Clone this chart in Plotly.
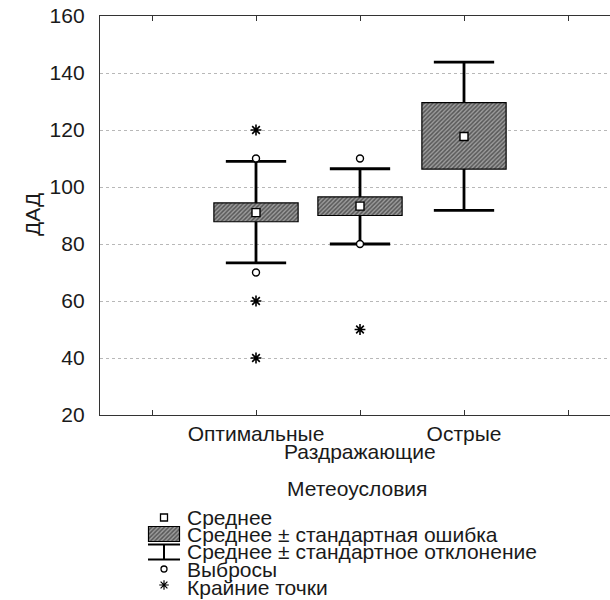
import plotly.graph_objects as go

# ---- data ----
categories = ["Оптимальные", "Раздражающие", "Острые"]
means = [91.0, 93.3, 117.7]
se_low = [87.8, 90.0, 106.3]
se_high = [94.4, 96.5, 129.6]
sd_low = [73.4, 80.0, 91.8]
sd_high = [109.0, 106.4, 143.8]
outlier_group = [0, 0, 1, 1]
outlier_vals = [110, 70, 110, 80]
extreme_group = [0, 0, 0, 1]
extreme_vals = [120, 60, 40, 50]
y_ticks = [20, 40, 60, 80, 100, 120, 140, 160]
legend_labels = ["Среднее", "Среднее ± стандартная ошибка",
                 "Среднее ± стандартное отклонение", "Выбросы", "Крайние точки"]
x_title = "Метеоусловия"
y_title = "ДАД"

FONT = "Liberation Sans, Arial, sans-serif"
FS = 21
TXT = "#1a1a1a"
W, H = 610, 600
pos = [i + 1 for i in range(len(categories))]
BOXW = 0.81
CAP = 0.29
HATCH = dict(color="#8a8a8a", line=dict(color="black", width=1.2),
             pattern=dict(shape="/", fgcolor="#111111", bgcolor="#9c9c9c",
                          size=3, solidity=0.5))

fig = go.Figure()

# boxes (mean ± SE)
fig.add_trace(go.Bar(
    x=pos, base=se_low, y=[h - l for h, l in zip(se_high, se_low)],
    width=BOXW, marker=HATCH, showlegend=False, hoverinfo="skip"))

# whiskers (mean ± SD)
wx, wy = [], []
for p, sl, sh, dl, dh in zip(pos, se_low, se_high, sd_low, sd_high):
    wx += [p, p, None, p, p, None, p - CAP, p + CAP, None, p - CAP, p + CAP, None]
    wy += [sh, dh, None, sl, dl, None, dh, dh, None, dl, dl, None]
fig.add_trace(go.Scatter(x=wx, y=wy, mode="lines",
                         line=dict(color="black", width=2.8),
                         showlegend=False, hoverinfo="skip"))

# means
fig.add_trace(go.Scatter(x=pos, y=means, mode="markers",
                         marker=dict(symbol="square", size=8, color="white",
                                     line=dict(color="black", width=1.4)),
                         showlegend=False))
# outliers
fig.add_trace(go.Scatter(x=[pos[g] for g in outlier_group], y=outlier_vals,
                         mode="markers",
                         marker=dict(symbol="circle", size=7, color="white",
                                     line=dict(color="black", width=1.4)),
                         showlegend=False))
# extremes
fig.add_trace(go.Scatter(x=[pos[g] for g in extreme_group], y=extreme_vals,
                         mode="markers",
                         marker=dict(symbol="asterisk-open", size=9, color="black",
                                     line=dict(color="black", width=1.6)),
                         showlegend=False))

# ---- legend glyphs on an auxiliary pixel-like axis ----
LY = [517.5, 534, 551.5, 569, 587]
GX = 164
fig.add_trace(go.Scatter(x=[GX], y=[LY[0]], mode="markers", xaxis="x2", yaxis="y2",
                         marker=dict(symbol="square", size=7, color="white",
                                     line=dict(color="black", width=1.3)),
                         showlegend=False, hoverinfo="skip"))
fig.add_trace(go.Bar(x=[GX], base=[LY[1] + 7.5], y=[-15], width=31,
                     xaxis="x2", yaxis="y2", marker=HATCH,
                     showlegend=False, hoverinfo="skip"))
fig.add_trace(go.Scatter(
    x=[GX - 16, GX + 16, None, GX, GX, None, GX - 16, GX + 16],
    y=[LY[2] - 7, LY[2] - 7, None, LY[2] - 7, LY[2] + 8, None, LY[2] + 8, LY[2] + 8],
    mode="lines", xaxis="x2", yaxis="y2", line=dict(color="black", width=2),
    showlegend=False, hoverinfo="skip"))
fig.add_trace(go.Scatter(x=[GX], y=[LY[3]], mode="markers", xaxis="x2", yaxis="y2",
                         marker=dict(symbol="circle", size=6, color="white",
                                     line=dict(color="black", width=1.3)),
                         showlegend=False, hoverinfo="skip"))
fig.add_trace(go.Scatter(x=[GX], y=[LY[4] - 2], mode="markers", xaxis="x2", yaxis="y2",
                         marker=dict(symbol="asterisk-open", size=8, color="black",
                                     line=dict(color="black", width=1.2)),
                         showlegend=False, hoverinfo="skip"))

annotations = []
for lab, yy in zip(legend_labels, LY):
    annotations.append(dict(x=185, y=yy, xref="x2", yref="y2", text=lab,
                            showarrow=False, xanchor="left", yanchor="middle",
                            font=dict(family=FONT, size=FS, color=TXT)))
# staggered middle category label
annotations.append(dict(x=pos[1], y=451, xref="x", yref="y2", text=categories[1],
                        showarrow=False, xanchor="center", yanchor="middle",
                        font=dict(family=FONT, size=FS, color=TXT)))
annotations.append(dict(x=357, y=488, xref="x2", yref="y2", text=x_title,
                        showarrow=False, xanchor="center", yanchor="middle",
                        font=dict(family=FONT, size=FS, color=TXT)))
annotations.append(dict(x=32, y=215, xref="x2", yref="y2", text=y_title, textangle=-90,
                        showarrow=False, xanchor="center", yanchor="middle",
                        font=dict(family=FONT, size=FS, color=TXT)))

left = 100
top, bottom = 16, 415
x0, x1 = -0.5, -0.5 + (W - left) / 104.0

fig.update_layout(
    width=W, height=H, margin=dict(l=0, r=0, t=0, b=0, autoexpand=False),
    paper_bgcolor="white", plot_bgcolor="rgba(0,0,0,0)",
    font=dict(family=FONT, size=FS, color=TXT),
    barmode="overlay",
    xaxis=dict(domain=[left / W, 1], range=[x0, x1],
               tickvals=[0, 1, 2, 3, 4],
               ticktext=["", categories[0], "", categories[2], ""],
               ticks="inside", ticklen=5, tickcolor="#333", tickwidth=1,
               showline=True, linecolor="#333", linewidth=1.3, mirror="ticks",
               showgrid=False, zeroline=False, fixedrange=True, automargin=False,
               tickfont=dict(family=FONT, size=FS, color=TXT)),
    yaxis=dict(domain=[1 - bottom / H, 1 - top / H], range=[20, 160],
               tickvals=y_ticks, ticks="", showline=True, linecolor="#333",
               linewidth=1.3, mirror=False, ticklabelstandoff=10,
               showgrid=True, gridcolor="#b8b8b8", griddash="dot", gridwidth=1,
               zeroline=False, fixedrange=True, automargin=False,
               tickfont=dict(family=FONT, size=FS, color=TXT)),
    xaxis2=dict(domain=[0, 1], range=[0, W], visible=False, anchor="y2", fixedrange=True),
    yaxis2=dict(domain=[0, 1], range=[H, 0], visible=False, anchor="x2", fixedrange=True),
    annotations=annotations,
)

fig.write_html("out.html")
